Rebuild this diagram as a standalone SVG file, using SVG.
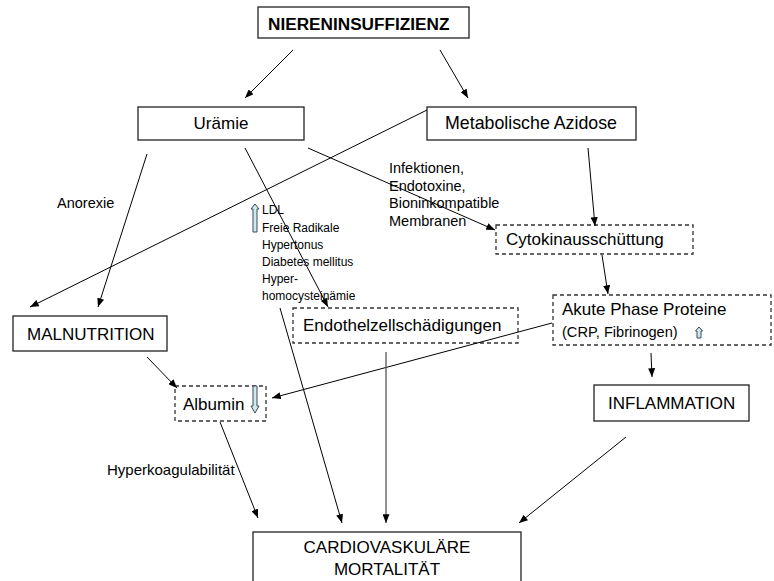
<svg xmlns="http://www.w3.org/2000/svg" width="774" height="581" viewBox="0 0 774 581">
<defs>
<marker id="ah" viewBox="0 0 10 8" markerUnits="userSpaceOnUse" markerWidth="9" markerHeight="7" refX="10" refY="4" orient="auto">
<path d="M0,0 L10,4 L0,8 Z" fill="#000"/>
</marker>
<style>
.t{font-family:"Liberation Sans",Arial,sans-serif;fill:#000}
.box{fill:#fff;stroke:#222;stroke-width:1.3}
.dbox{fill:#fff;stroke:#333;stroke-width:1.3;stroke-dasharray:4 3}
.c line{stroke:#000;stroke-width:1;marker-end:url(#ah)}
.c line.g{stroke:#555;stroke-width:1.3}
.ba{fill:#cfe9ec;stroke:#3a4a5a;stroke-width:1}
</style>
</defs>
<rect width="774" height="581" fill="#fff"/>

<g id="niereninsuffizienz">
<rect class="box" x="258" y="7" width="211" height="31"/>
<text class="t" x="268" y="30" font-size="17.2" font-weight="bold">NIERENINSUFFIZIENZ</text>
</g>
<g id="uraemie">
<rect class="box" x="138" y="107" width="166" height="33"/>
<text class="t" x="221" y="129" font-size="17" text-anchor="middle">Urämie</text>
</g>
<g id="azidose">
<rect class="box" x="427" y="107" width="209" height="33"/>
<text class="t" x="531" y="129" font-size="17.8" text-anchor="middle">Metabolische Azidose</text>
</g>
<g id="label-anorexie">
<text class="t" x="57" y="208" font-size="14.5">Anorexie</text>
</g>
<g id="label-infektionen" font-size="14.5">
<text class="t" x="389" y="173">Infektionen,</text>
<text class="t" x="389" y="190.5">Endotoxine,</text>
<text class="t" x="389" y="208">Bioninkompatible</text>
<text class="t" x="389" y="225.5">Membranen</text>
</g>
<g id="label-risiko" font-size="12">
<path class="ba" d="M255,204 L259,209 L257,209 L257,232 L253,232 L253,209 L251,209 Z"/>
<text class="t" x="262" y="214">LDL</text>
<text class="t" x="262" y="231.5">Freie Radikale</text>
<text class="t" x="262" y="248.5">Hypertonus</text>
<text class="t" x="262" y="265.5">Diabetes mellitus</text>
<text class="t" x="262" y="283">Hyper-</text>
<text class="t" x="262" y="300">homocysteinämie</text>
</g>
<g id="cytokin">
<rect class="dbox" x="496" y="225" width="197" height="29"/>
<text class="t" x="506" y="245" font-size="17">Cytokinausschüttung</text>
</g>
<g id="akute-phase">
<rect class="dbox" x="553" y="295" width="218" height="50"/>
<text class="t" x="562" y="315" font-size="17">Akute Phase Proteine</text>
<text class="t" x="562" y="337" font-size="14.6">(CRP, Fibrinogen)</text>
<path class="ba" d="M699,327 L702.5,331 L701,331 L701,338 L697,338 L697,331 L695.5,331 Z"/>
</g>
<g id="endothel">
<rect class="dbox" x="293" y="308" width="225" height="35"/>
<text class="t" x="303" y="331" font-size="17">Endothelzellschädigungen</text>
</g>
<g id="malnutrition">
<rect class="box" x="13" y="316" width="154" height="35"/>
<text class="t" x="27" y="340" font-size="17">MALNUTRITION</text>
</g>
<g id="albumin">
<rect class="dbox" x="175" y="386" width="91" height="35"/>
<text class="t" x="183" y="410" font-size="17">Albumin</text>
<path class="ba" d="M255,413 L259,406 L257,406 L257,386 L253,386 L253,406 L251,406 Z"/>
</g>
<g id="inflammation">
<rect class="box" x="594" y="385" width="155" height="36"/>
<text class="t" x="608" y="409" font-size="17">INFLAMMATION</text>
</g>
<g id="label-hyperkoagulabilitaet">
<text class="t" x="107" y="475" font-size="15">Hyperkoagulabilität</text>
</g>
<g id="cardio">
<rect class="box" x="253" y="532" width="268" height="60"/>
<text class="t" x="387" y="553" font-size="17" text-anchor="middle">CARDIOVASKULÄRE</text>
<text class="t" x="387" y="575" font-size="17" text-anchor="middle">MORTALITÄT</text>
</g>

<g id="connectors" class="c">
<line x1="293" y1="50" x2="245" y2="98"/>
<line x1="440" y1="50" x2="468" y2="98"/>
<line x1="147" y1="154" x2="98" y2="307"/>
<line x1="427" y1="110" x2="30" y2="307"/>
<line x1="308" y1="148" x2="495" y2="230"/>
<line x1="245" y1="148" x2="328" y2="307"/>
<line x1="588" y1="148" x2="595" y2="226"/>
<line x1="602" y1="255" x2="608" y2="294"/>
<line x1="552" y1="323" x2="272" y2="398"/>
<line x1="147" y1="357" x2="177" y2="388"/>
<line x1="220" y1="422" x2="258" y2="518"/>
<line x1="280" y1="308" x2="342" y2="523"/>
<line class="g" x1="386" y1="352" x2="386" y2="523"/>
<line x1="651" y1="353" x2="652" y2="377"/>
<line x1="626" y1="437" x2="519" y2="523"/>
</g>
</svg>
